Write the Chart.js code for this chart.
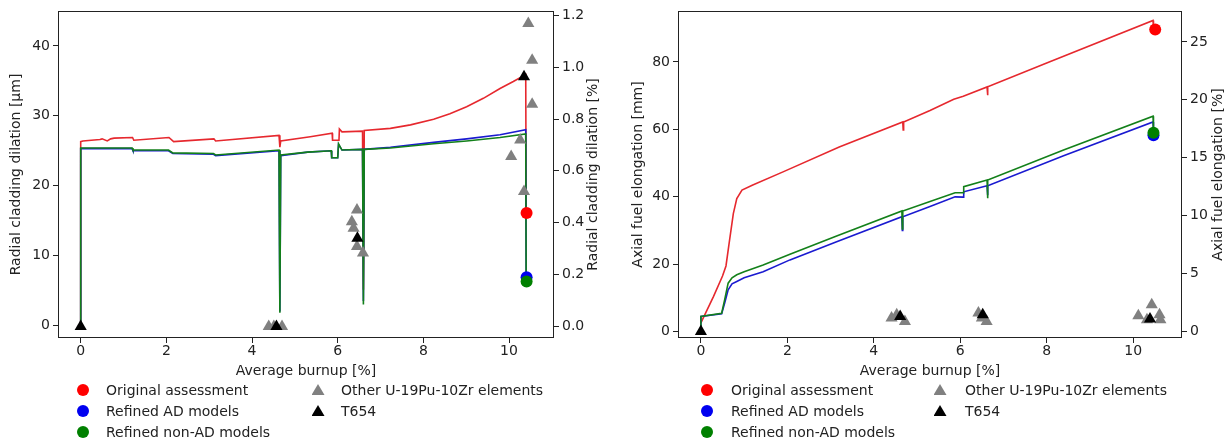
<!DOCTYPE html>
<html>
<head>
<meta charset="utf-8">
<script src="https://cdn.jsdelivr.net/npm/chart.js@4"></script>
<style>
  body { margin: 0; background: #fff; font-family: 'DejaVu Sans', sans-serif; }
  #wrap { position: relative; width: 1231px; height: 442px; overflow: hidden; }
  canvas { position: absolute; top: 0; }
  #c1 { left: 0; }
  #c2 { left: 620px; }
  .leg-text { position: absolute; font-size: 14px; line-height: 16px; color: #222; white-space: nowrap; }
  .leg-mk { position: absolute; }
  .leg-mk.circle { width: 12px; height: 12px; border-radius: 50%; }
  .leg-mk.triangle { width: 13px; height: 11px; clip-path: polygon(50% 0, 100% 100%, 0 100%); }
</style>
</head>
<body>
<div id="wrap">
  <canvas id="c1" width="615" height="385"></canvas>
  <canvas id="c2" width="611" height="385"></canvas>
</div>
<script>
// ---- shared ticks ----
const burnupTicks = [0, 2, 4, 6, 8, 10];

// ---- left panel: radial cladding dilation ----
const dilTicksUm = [0, 10, 20, 30, 40];
const dilTicksPct = [0, 0.2, 0.4, 0.6, 0.8, 1.0, 1.2];

const dilRedX = [0, 0, 0.05, 0.45, 0.5, 0.62, 0.7, 0.78, 1.21, 1.24, 2.06, 2.17, 3.11, 3.15, 4.63, 4.65, 4.67, 5.36, 5.87, 5.88, 6.03, 6.04, 6.1, 6.58, 6.6, 6.62, 7.23, 7.7, 8.24, 8.62, 9.01, 9.4, 9.79, 10.1, 10.39, 10.4];
const dilRedY = [0, 26.3, 26.4, 26.6, 26.7, 26.4, 26.7, 26.8, 26.9, 26.5, 26.9, 26.3, 26.7, 26.4, 27.2, 25.5, 26.4, 27.0, 27.5, 26.5, 26.5, 28.1, 27.7, 27.8, 5.1, 27.9, 28.2, 28.7, 29.5, 30.3, 31.3, 32.5, 33.9, 34.9, 35.9, 16.0];

const dilModelX = [0, 0, 1.2, 1.22, 2.05, 2.15, 3.1, 3.15, 4.63, 4.65, 4.67, 5.3, 5.85, 5.86, 6.0, 6.02, 6.1, 6.58, 6.6, 6.62, 7.23, 8.24, 9.01, 9.79, 10.39, 10.4];
const dilBlueY = [0, 25.3, 25.3, 25.0, 25.0, 24.6, 24.5, 24.3, 25.0, 2.0, 24.3, 24.8, 25.0, 24.0, 24.0, 25.9, 25.1, 25.2, 3.5, 25.2, 25.5, 26.2, 26.7, 27.3, 28.0, 7.0];
const dilGreenY = [0, 25.4, 25.4, 25.1, 25.1, 24.7, 24.6, 24.4, 25.1, 1.8, 24.4, 24.8, 25.0, 24.0, 24.0, 26.0, 25.1, 25.2, 3.0, 25.2, 25.4, 26.0, 26.4, 26.9, 27.4, 6.3];

const dilOrigPt = [10.41, 0.437];
const dilAdPt = [10.41, 0.19];
const dilNonAdPt = [10.41, 0.173];
const dilOtherX = [4.39, 4.51, 4.70, 6.45, 6.33, 6.37, 6.45, 6.59, 10.05, 10.26, 10.35, 10.45, 10.54, 10.54];
const dilOtherY = [0, 0, 0, 0.449, 0.404, 0.379, 0.308, 0.283, 0.655, 0.719, 0.52, 1.168, 1.027, 0.857];
const dilT654X = [0, 4.57, 6.46, 10.35];
const dilT654Y = [0, 0, 0.34, 0.963];

// ---- right panel: axial fuel elongation ----
const elTicksMm = [0, 20, 40, 60, 80];
const elTicksPct = [0, 5, 10, 15, 20, 25];

const elRedX = [0, 0.29, 0.5, 0.58, 0.65, 0.75, 0.83, 0.95, 1.2, 1.9, 3.2, 4.67, 4.68, 4.69, 5.3, 5.85, 6.07, 6.62, 6.63, 6.64, 8.0, 10.46, 10.47];
const elRedY = [2.6, 10.4, 16.5, 19.5, 26.0, 35.0, 39.5, 42.0, 43.5, 47.4, 54.8, 62.2, 59.8, 62.2, 65.6, 68.9, 69.8, 72.6, 70.1, 72.6, 79.7, 92.3, 89.8];

const elModelX = [0, 0, 0.48, 0.55, 0.63, 0.72, 0.83, 1.0, 1.44, 2.06, 3.14, 4.65, 4.66, 4.67, 5.3, 5.88, 6.07, 6.08, 6.62, 6.63, 6.64, 8.39, 10.46, 10.47];
const elBlueY = [1.5, 4.5, 5.3, 8.5, 12.4, 14.2, 14.9, 16.0, 17.8, 21.3, 26.7, 34.1, 30.0, 34.1, 37.1, 40.0, 39.9, 41.5, 43.3, 40.5, 43.3, 52.2, 62.2, 58.8];
const elGreenY = [1.5, 4.5, 5.5, 9.5, 14.4, 16.0, 16.9, 17.8, 19.8, 23.0, 28.4, 35.8, 30.5, 35.8, 38.6, 41.2, 41.2, 43.0, 45.0, 39.6, 45.0, 53.9, 63.9, 59.5];

const elOrigPt = [10.51, 26.07];
const elAdPt = [10.47, 16.93];
const elNonAdPt = [10.47, 17.16];
const elOtherX = [4.41, 4.53, 4.72, 6.42, 6.50, 6.61, 10.12, 10.32, 10.43, 10.61, 10.63];
const elOtherY = [1.15, 1.44, 0.86, 1.59, 1.16, 0.86, 1.35, 1.0, 2.3, 1.44, 1.0];
const elT654X = [0, 4.61, 6.52, 10.39];
const elT654Y = [0, 1.29, 1.44, 1.07];

const legendItems = [
  { label: 'Original assessment', color: '#ff0000', shape: 'circle', col: 0, row: 0 },
  { label: 'Refined AD models', color: '#0000f0', shape: 'circle', col: 0, row: 1 },
  { label: 'Refined non-AD models', color: '#008000', shape: 'circle', col: 0, row: 2 },
  { label: 'Other U-19Pu-10Zr elements', color: '#808080', shape: 'triangle', col: 1, row: 0 },
  { label: 'T654', color: '#000000', shape: 'triangle', col: 1, row: 1 },
];

const TXT = '#222';
const FONT = "'DejaVu Sans', sans-serif";
Chart.defaults.font.family = FONT;
Chart.defaults.font.size = 14;
Chart.defaults.color = TXT;

const pts = (xs, ys) => xs.map((x, i) => ({ x, y: ys[i] }));

const framePlugin = {
  id: 'frame',
  afterDraw(chart) {
    const { ctx, chartArea: a } = chart;
    ctx.save();
    ctx.strokeStyle = TXT;
    ctx.lineWidth = 1;
    ctx.strokeRect(Math.round(a.left) + 0.5, Math.round(a.top) + 0.5,
      Math.round(a.right - a.left) - 1, Math.round(a.bottom - a.top) - 1);
    ctx.restore();
  },
};

// right-hand axis title, reading bottom to top like the left one
const rightTitlePlugin = {
  id: 'rightTitle',
  afterDraw(chart, args, opts) {
    const { ctx, chartArea: a } = chart;
    ctx.save();
    ctx.translate(opts.x, (a.top + a.bottom) / 2);
    ctx.rotate(-Math.PI / 2);
    ctx.font = '14px ' + FONT;
    ctx.fillStyle = TXT;
    ctx.textAlign = 'center';
    ctx.textBaseline = 'middle';
    ctx.fillText(opts.text, 0, 0);
    ctx.restore();
  },
};

function zeroPad(s) {
  s.paddingTop = 0; s.paddingBottom = 0; s.paddingLeft = 0; s.paddingRight = 0;
}

function lineSet(label, data, color, order) {
  return { label, data, yAxisID: 'y', showLine: true, borderColor: color, borderWidth: 1.6,
    pointRadius: 0, pointHoverRadius: 0, tension: 0, order };
}
function markSet(label, data, color, shape, order) {
  return { label, data, yAxisID: 'y2', showLine: false, backgroundColor: color, borderColor: color,
    borderWidth: 0, pointStyle: shape, pointRadius: shape === 'triangle' ? 7 : 6, order };
}

function makePanel(canvas, p) {
  const tickGrid = { drawOnChartArea: false, drawTicks: true, tickLength: 5, color: TXT };
  return new Chart(canvas, {
    type: 'scatter',
    data: {
      datasets: [
        markSet('T654', p.t654, '#000000', 'triangle', 0),
        markSet('Other U-19Pu-10Zr elements', p.other, '#808080', 'triangle', 1),
        markSet('Refined non-AD models', [p.nonAd], '#008000', 'circle', 2),
        markSet('Refined AD models', [p.ad], '#0000f0', 'circle', 3),
        markSet('Original assessment', [p.orig], '#ff0000', 'circle', 4),
        lineSet('non-AD', p.green, '#13801a', 5),
        lineSet('AD', p.blue, '#1a1ad0', 6),
        lineSet('Original', p.red, '#e6282e', 7),
      ],
    },
    options: {
      responsive: false,
      animation: false,
      events: [],
      layout: { padding: { top: 11, left: 0, right: 0, bottom: 0 } },
      plugins: {
        legend: { display: false },
        tooltip: { enabled: false },
        rightTitle: { text: p.y2Title, x: p.y2TitleX },
      },
      scales: {
        x: {
          type: 'linear', position: 'bottom', min: p.xMin, max: p.xMax,
          afterBuildTicks: (s) => { s.ticks = burnupTicks.map((v) => ({ value: v })); },
          ticks: { padding: 0 },
          grid: tickGrid,
          border: { display: false },
          title: { display: true, text: 'Average burnup [%]', padding: { top: 0, bottom: 5 } },
          afterFit: (s) => { s.height = 47; zeroPad(s); },
        },
        y: {
          type: 'linear', position: 'left', min: p.yMin, max: p.yMax,
          afterBuildTicks: (s) => { s.ticks = p.yTicks.map((v) => ({ value: v })); },
          ticks: { padding: 3 },
          grid: tickGrid,
          border: { display: false },
          title: { display: true, text: p.yTitle, padding: { top: p.yTitlePad, bottom: 0 } },
          afterFit: (s) => { s.width = 58; zeroPad(s); },
        },
        y2: {
          type: 'linear', position: 'right', min: p.y2Min, max: p.y2Max,
          afterBuildTicks: (s) => { s.ticks = p.y2Ticks.map((v) => ({ value: v })); },
          ticks: { padding: 3, callback: p.y2Fmt },
          grid: tickGrid,
          border: { display: false },
          title: { display: false },
          afterFit: (s) => { s.width = p.y2Width; zeroPad(s); },
        },
      },
    },
    plugins: [framePlugin, rightTitlePlugin],
  });
}

makePanel(document.getElementById('c1'), {
  xMin: -0.53, xMax: 11.05,
  yMin: -1.8, yMax: 45, yTicks: dilTicksUm, yTitle: 'Radial cladding dilation [\u03bcm]', yTitlePad: 8.3,
  y2Min: -0.0447, y2Max: 1.2166, y2Ticks: dilTicksPct, y2Title: 'Radial cladding dilation [%]',
  y2TitleX: 593.5, y2Width: 61, y2Fmt: (v) => v.toFixed(1),
  red: pts(dilRedX, dilRedY), blue: pts(dilModelX, dilBlueY), green: pts(dilModelX, dilGreenY),
  orig: { x: dilOrigPt[0], y: dilOrigPt[1] }, ad: { x: dilAdPt[0], y: dilAdPt[1] },
  nonAd: { x: dilNonAdPt[0], y: dilNonAdPt[1] },
  other: pts(dilOtherX, dilOtherY), t654: pts(dilT654X, dilT654Y),
});

makePanel(document.getElementById('c2'), {
  xMin: -0.53, xMax: 11.13,
  yMin: -1.86, yMax: 95.1, yTicks: elTicksMm, yTitle: 'Axial fuel elongation [mm]', yTitlePad: 9.9,
  y2Min: -0.57, y2Max: 27.67, y2Ticks: elTicksPct, y2Title: 'Axial fuel elongation [%]',
  y2TitleX: 598.3, y2Width: 49, y2Fmt: (v) => String(v),
  red: pts(elRedX, elRedY), blue: pts(elModelX, elBlueY), green: pts(elModelX, elGreenY),
  orig: { x: elOrigPt[0], y: elOrigPt[1] }, ad: { x: elAdPt[0], y: elAdPt[1] },
  nonAd: { x: elNonAdPt[0], y: elNonAdPt[1] },
  other: pts(elOtherX, elOtherY), t654: pts(elT654X, elT654Y),
});

// legends below each panel, two columns filled top to bottom
function addLegend(colMarkX, colTextX) {
  const wrap = document.getElementById('wrap');
  const rowY = [389.5, 410.5, 431.5];
  legendItems.forEach((it) => {
    const mk = document.createElement('div');
    mk.className = 'leg-mk ' + it.shape;
    mk.style.background = it.color;
    const w = it.shape === 'circle' ? 12 : 13;
    const h = it.shape === 'circle' ? 12 : 11;
    mk.style.left = (colMarkX[it.col] - w / 2) + 'px';
    mk.style.top = (rowY[it.row] - h / 2) + 'px';
    wrap.appendChild(mk);
    const tx = document.createElement('div');
    tx.className = 'leg-text';
    tx.textContent = it.label;
    tx.style.left = colTextX[it.col] + 'px';
    tx.style.top = (rowY[it.row] - 8) + 'px';
    wrap.appendChild(tx);
  });
}
addLegend([83, 318], [106, 341]);
addLegend([707, 940], [731, 965]);
</script>
</body>
</html>
